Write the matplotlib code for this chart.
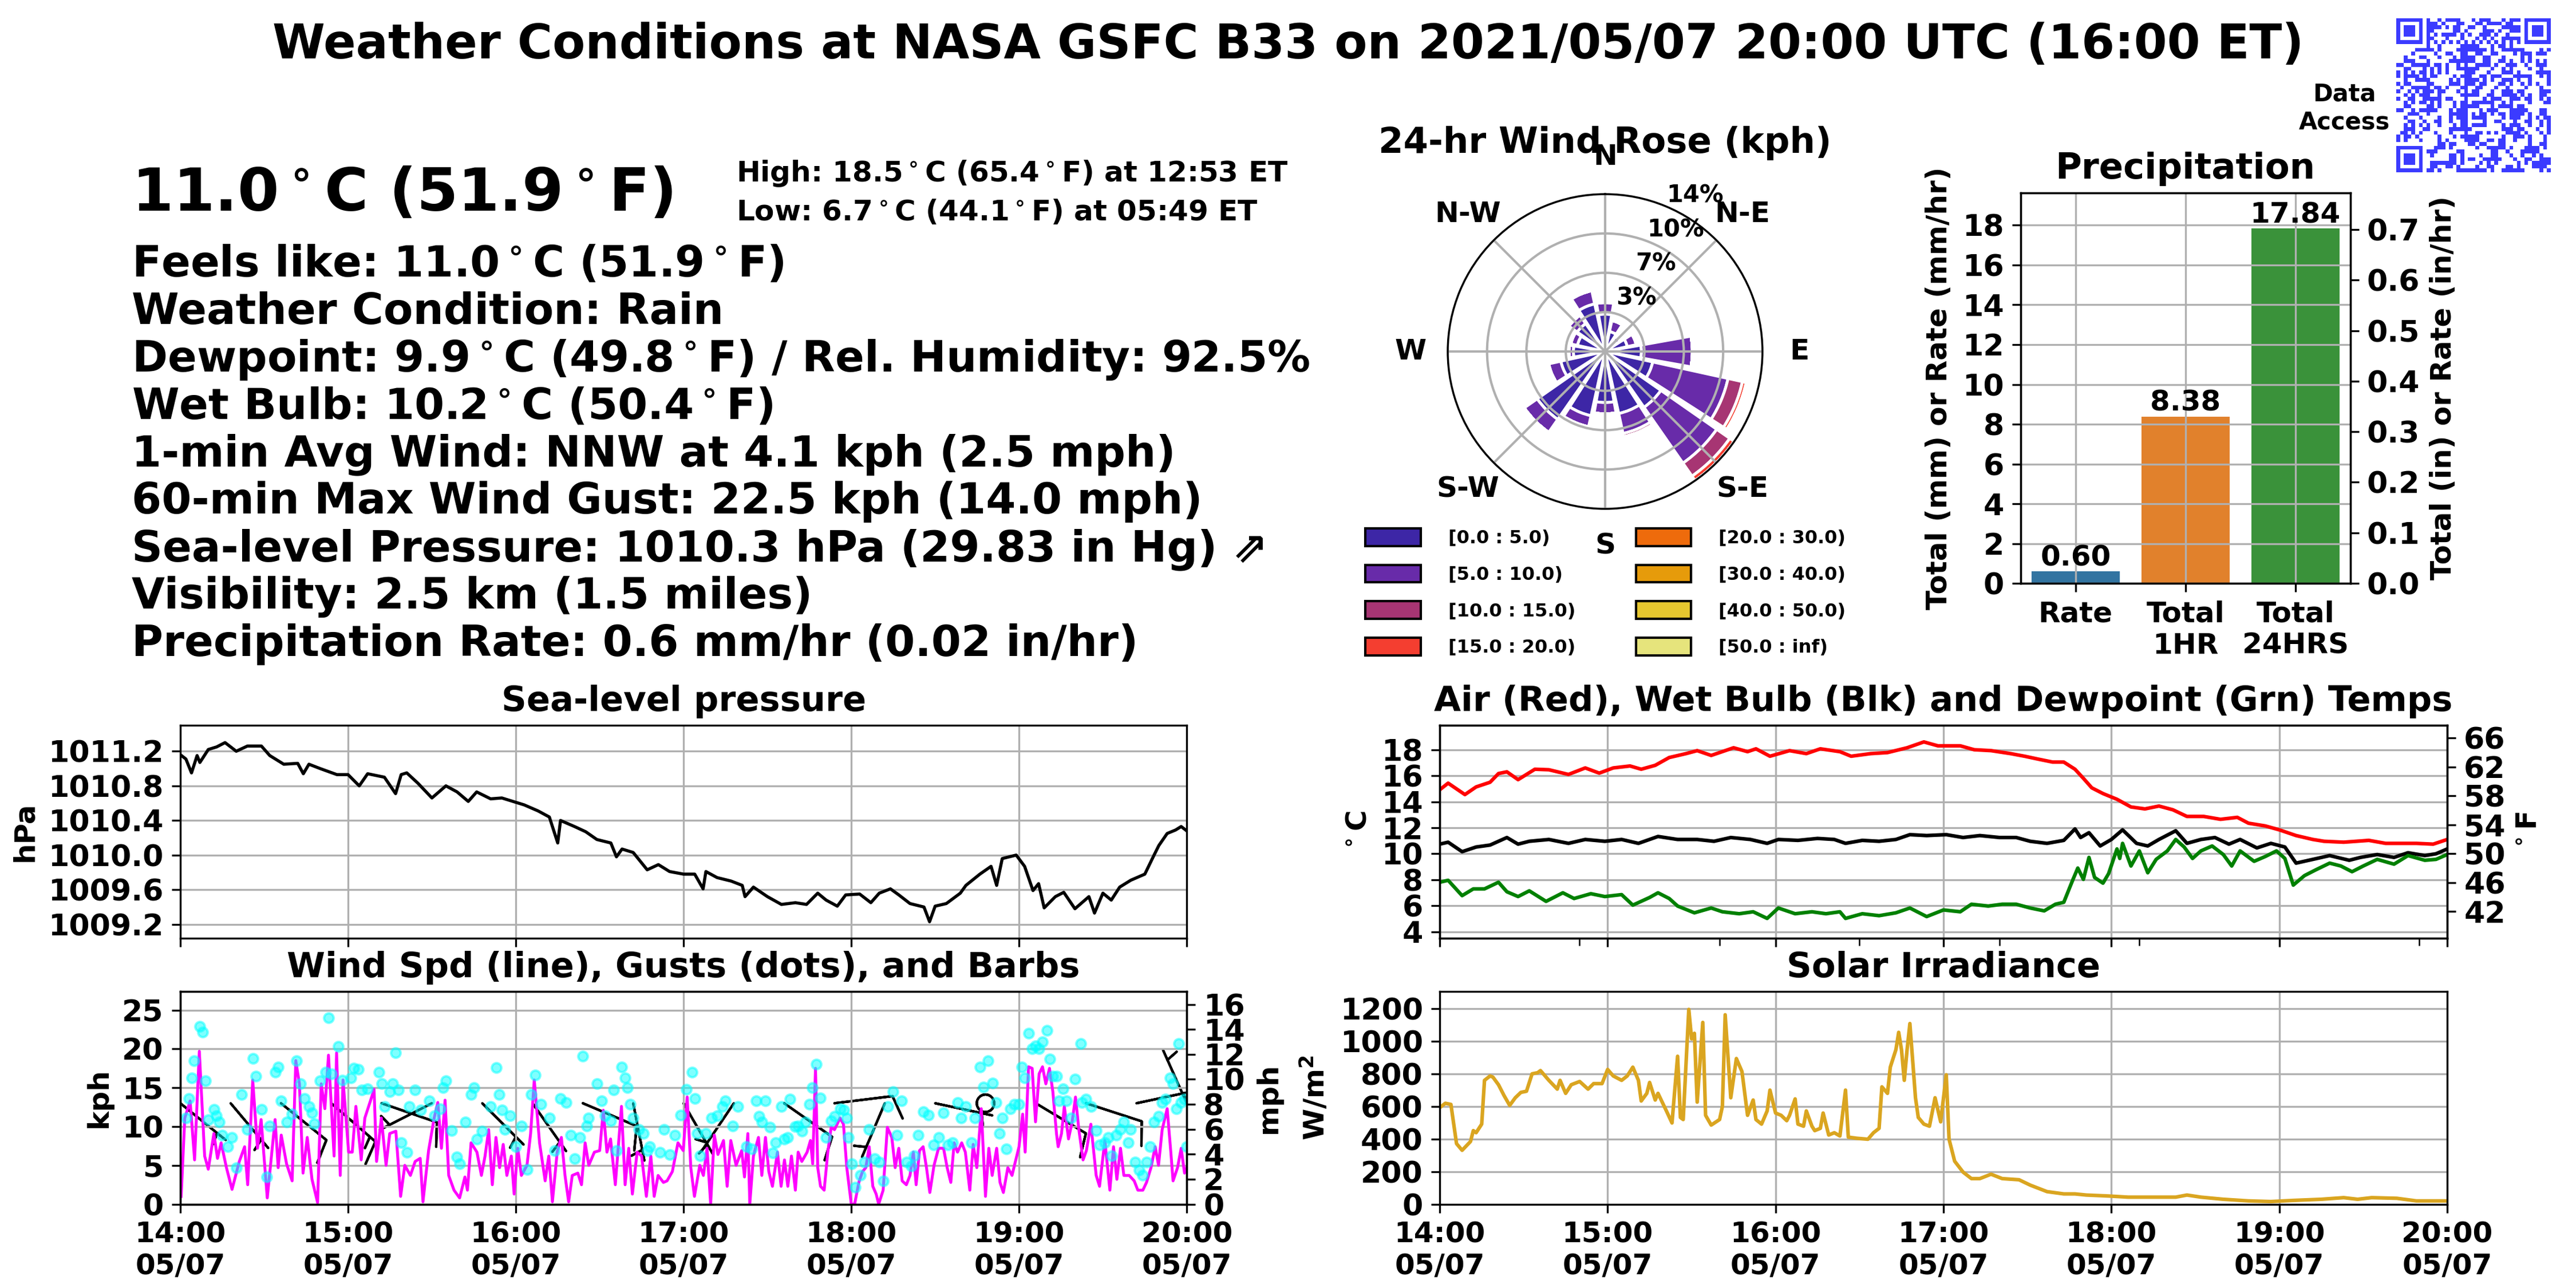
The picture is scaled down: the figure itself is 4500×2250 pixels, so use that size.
import numpy as np
import pandas as pd
import matplotlib
matplotlib.use('Agg')
import matplotlib.pyplot as plt
import matplotlib.dates as mdates
from matplotlib.patches import Patch
from matplotlib.colors import ListedColormap

plt.rcParams['font.family'] = ['DejaVu Sans']
plt.rcParams['font.weight'] = 'bold'
plt.rcParams['axes.labelweight'] = 'bold'
plt.rcParams['axes.titleweight'] = 'bold'
plt.rcParams['axes.titlesize'] = 14.6
plt.rcParams['axes.labelsize'] = 12
plt.rcParams['xtick.labelsize'] = 12
plt.rcParams['ytick.labelsize'] = 12.5
plt.rcParams['mathtext.default'] = 'bf'

GRID = '#b0b0b0'

# ---------------- data ----------------
# minutes after 14:00 UTC on 2021/05/07
pres_t = [0, 2, 4, 6, 7, 10, 13, 16, 20, 24, 29, 32, 34, 37, 42, 44, 46, 50, 56, 60,
          64, 67, 73, 77, 79, 81, 85, 90, 95, 99, 103, 106, 111, 115, 119, 123, 128, 132,
          135, 136, 141, 145, 149, 154, 156, 158, 162, 167, 171, 175, 180, 184, 187, 188,
          192, 197, 201, 202, 205, 210, 215, 220, 224, 228, 231, 235, 238, 243, 247, 250,
          254, 257, 261, 266, 268, 270, 274, 279, 281, 286, 290, 292, 294, 299, 302, 305,
          307, 309, 313, 316, 320, 325, 327, 330, 333, 336, 340, 345, 348, 350, 353, 356,
          358, 360]
pres_v = [1011.16, 1011.11, 1010.95, 1011.15, 1011.07, 1011.22, 1011.25, 1011.30, 1011.20,
          1011.26, 1011.26, 1011.15, 1011.11, 1011.05, 1011.06, 1010.94, 1011.05, 1011.00,
          1010.93, 1010.93, 1010.80, 1010.94, 1010.90, 1010.71, 1010.93, 1010.95, 1010.83,
          1010.66, 1010.80, 1010.73, 1010.62, 1010.73, 1010.65, 1010.66, 1010.62, 1010.58,
          1010.51, 1010.44, 1010.14, 1010.40, 1010.33, 1010.27, 1010.18, 1010.14, 1009.98,
          1010.07, 1010.03, 1009.83, 1009.89, 1009.81, 1009.78, 1009.78, 1009.61, 1009.81,
          1009.74, 1009.70, 1009.65, 1009.52, 1009.63, 1009.52, 1009.43, 1009.45, 1009.43,
          1009.56, 1009.48, 1009.41, 1009.54, 1009.55, 1009.45, 1009.56, 1009.61, 1009.54,
          1009.44, 1009.40, 1009.23, 1009.41, 1009.44, 1009.56, 1009.65, 1009.78, 1009.87,
          1009.65, 1009.96, 1010.00, 1009.87, 1009.59, 1009.67, 1009.39, 1009.52, 1009.57,
          1009.38, 1009.52, 1009.33, 1009.56, 1009.48, 1009.63, 1009.71, 1009.78, 1009.98,
          1010.11, 1010.25, 1010.29, 1010.33, 1010.28]

air_t = [0, 3, 9, 13, 18, 21, 24, 28, 34, 39, 46, 52, 57, 62, 68, 72, 77, 82, 88, 92, 97,
         105, 110, 113, 118, 125, 131, 136, 143, 147, 154, 160, 167, 173, 178, 186, 191, 197,
         204, 209, 214, 219, 223, 227, 230, 233, 237, 242, 247, 252, 257, 262, 267, 273, 279,
         285, 289, 295, 300, 306, 312, 316, 323, 332, 338, 343, 349, 355, 360]
air_v = [14.92, 15.43, 14.55, 15.14, 15.5, 16.17, 16.3, 15.7, 16.5, 16.46, 16.1, 16.6, 16.2,
         16.6, 16.75, 16.5, 16.8, 17.4, 17.7, 17.93, 17.56, 18.15, 17.85, 18.07, 17.5, 17.93,
         17.7, 18.07, 17.85, 17.5, 17.7, 17.78, 18.15, 18.6, 18.3, 18.3, 18.0, 17.93, 17.7,
         17.5, 17.27, 17.05, 17.05, 16.5, 15.8, 15.07, 14.63, 14.19, 13.6, 13.45, 13.67, 13.38,
         12.87, 12.87, 12.65, 12.8, 12.35, 12.14, 11.84, 11.4, 11.1, 10.96, 10.89, 11.03, 10.8,
         10.8, 10.8, 10.74, 11.1]

wb_t = [0, 3, 8, 13, 18, 21, 24, 28, 32, 39, 46, 52, 59, 65, 71, 78, 85, 92, 98, 104, 111,
        117, 121, 128, 135, 141, 145, 151, 157, 163, 168, 174, 181, 187, 193, 200, 206, 211,
        217, 223, 227, 229, 232, 236, 240, 244, 249, 253, 257, 263, 267, 272, 277, 282, 286,
        292, 297, 302, 306, 312, 318, 325, 329, 335, 341, 346, 352, 356, 360]
wb_v = [10.74, 10.89, 10.16, 10.52, 10.67, 10.96, 11.25, 10.74, 10.96, 11.1, 10.8, 11.1,
        10.96, 11.1, 10.8, 11.33, 11.1, 11.1, 10.96, 11.25, 11.1, 10.8, 11.1, 11.03, 11.18,
        11.1, 10.8, 11.03, 10.96, 11.1, 11.47, 11.4, 11.47, 11.25, 11.4, 11.25, 11.25, 10.96,
        10.8, 11.03, 11.91, 11.25, 11.62, 10.6, 11.1, 11.84, 10.8, 10.6, 11.1, 11.77, 10.8,
        11.1, 11.25, 10.74, 11.1, 10.45, 10.8, 10.52, 9.28, 9.57, 9.86, 9.5, 9.72, 9.94, 9.72,
        10.08, 9.86, 10.0, 10.37]

dew_t = [0, 3, 8, 12, 16, 21, 24, 28, 32, 38, 44, 48, 54, 59, 65, 69, 75, 78, 82, 85, 91,
         97, 101, 107, 112, 117, 121, 127, 133, 138, 143, 145, 151, 157, 163, 168, 174, 180,
         186, 190, 196, 201, 206, 211, 216, 220, 223, 226, 228, 230, 232, 234, 237, 239, 242,
         243, 244, 247, 250, 253, 256, 260, 263, 266, 269, 272, 276, 280, 283, 286, 291, 295,
         299, 302, 305, 309, 313, 318, 322, 326, 330, 335, 341, 346, 352, 356, 360]
dew_v = [7.81, 7.96, 6.78, 7.3, 7.3, 7.81, 7.08, 6.71, 7.15, 6.34, 7.0, 6.56, 6.93, 6.71,
         6.86, 6.05, 6.64, 7.0, 6.56, 5.98, 5.46, 5.83, 5.54, 5.39, 5.54, 5.03, 5.83, 5.39,
         5.54, 5.39, 5.54, 5.03, 5.39, 5.24, 5.46, 5.83, 5.17, 5.68, 5.54, 6.12, 5.98, 6.12,
         6.12, 5.83, 5.61, 6.12, 6.27, 7.88, 8.9, 8.03, 9.72, 8.18, 7.74, 8.47, 10.37, 9.64,
         10.8, 9.06, 10.22, 8.54, 9.57, 10.22, 11.1, 10.52, 9.64, 10.22, 10.6, 9.94, 9.06,
         10.22, 9.42, 9.79, 10.22, 9.64, 7.59, 8.32, 8.76, 9.28, 9.06, 8.62, 9.06, 9.57, 9.2,
         9.86, 9.5, 9.57, 9.94]

sol_t = [0, 2, 4, 6, 8, 11, 12, 13, 15, 16, 18, 19, 21, 23, 25, 27, 29, 31, 33, 35, 36, 39,
         42, 43, 45, 47, 50, 53, 55, 58, 60, 62, 65, 67, 69, 71, 72, 74, 75, 77, 78, 81, 83,
         85, 86, 87, 89, 90, 91, 92, 94, 95, 97, 100, 101, 102, 104, 106, 108, 110, 112, 113,
         115, 117, 118, 120, 122, 124, 125, 127, 128, 130, 131, 133, 134, 136, 137, 139, 141,
         143, 145, 146, 149, 153, 155, 157, 158, 160, 161, 163, 164, 165, 166, 167, 168, 170,
         171, 173, 175, 177, 179, 181, 182, 184, 187, 190, 193, 197, 201, 207, 211, 217, 223,
         227, 231, 239, 246, 254, 263, 267, 272, 280, 289, 297, 305, 315, 323, 328, 333, 342,
         349, 360]
sol_v = [593, 620, 613, 372, 331, 385, 452, 439, 492, 761, 788, 781, 734, 667, 607, 654, 687,
         694, 801, 808, 821, 761, 707, 761, 681, 734, 754, 707, 741, 741, 828, 788, 761, 788,
         842, 761, 634, 681, 748, 640, 681, 573, 499, 909, 533, 520, 1197, 1016, 1050, 627,
         1117, 546, 486, 520, 600, 1164, 654, 895, 815, 546, 640, 520, 492, 573, 701, 560, 546,
         513, 546, 647, 492, 479, 573, 479, 452, 466, 560, 425, 439, 419, 701, 412, 405, 399,
         439, 466, 721, 681, 842, 949, 1056, 949, 761, 949, 1110, 654, 533, 492, 479, 654, 506,
         795, 399, 264, 197, 157, 157, 184, 157, 150, 117, 77, 63, 63, 56, 50, 43, 43, 43, 56,
         43, 30, 20, 16, 23, 30, 40, 30, 40, 36, 20, 20]

wind_t = [0.3, 1.6, 3.5, 5.1, 6.8, 8.7, 10.0, 12.0, 13.3, 14.6, 16.5, 18.5, 21.1, 23.0, 24.1,
          25.9, 27.6, 28.9, 31.1, 33.9, 35.0, 36.1, 38.0, 40.0, 41.3, 42.6, 43.9, 45.4, 47.1,
          49.1, 50.4, 51.7, 53.0, 55.0, 55.9, 57.2, 58.2, 60.2, 61.5, 62.8, 64.7, 66.0, 68.0,
          69.3, 70.2, 71.9, 73.6, 74.9, 77.1, 78.8, 80.3, 82.3, 84.0, 85.8, 86.8, 88.8, 90.8,
          92.1, 93.4, 94.7, 96.0, 97.9, 99.9, 101.8, 102.7, 104.0, 106.1, 107.7, 109.0, 110.3,
          111.6, 112.9, 114.2, 115.5, 116.8, 118.4, 119.4, 120.7, 122.0, 124.0, 125.3, 126.6,
          128.5, 130.5, 131.8, 133.1, 134.8, 136.3, 137.6, 138.9, 140.2, 142.2, 143.5, 144.8,
          146.1, 148.1, 150.0, 151.3, 152.6, 153.9, 155.6, 157.8, 159.1, 160.4, 161.7, 163.4,
          165.0, 166.7, 168.3, 169.5, 170.9, 172.8, 174.1, 176.0, 178.0, 179.9, 181.3, 182.6,
          183.9, 185.8, 187.1, 188.4, 189.7, 191.0, 192.3, 194.3, 195.6, 196.9, 198.8, 200.8,
          201.8, 203.0, 203.7, 205.0, 206.8, 208.0, 209.3, 210.5, 211.8, 213.6, 214.9, 216.1,
          217.3, 218.6, 220.0, 221.0, 222.3, 224.2, 225.4, 226.2, 227.2, 228.0, 229.0, 230.3,
          231.6, 232.8, 234.0, 236.0, 237.2, 238.4, 240.0, 241.2, 242.7, 244.0, 245.2, 246.4,
          247.7, 248.9, 249.8, 251.4, 252.9, 254.5, 255.7, 257.0, 258.2, 259.7, 261.0, 262.2,
          263.2, 264.4, 265.7, 266.9, 268.1, 269.6, 271.2, 273.0, 274.3, 275.6, 276.8, 278.0,
          279.5, 280.8, 282.4, 283.6, 284.9, 286.5, 288.0, 289.2, 290.4, 292.0, 293.2, 294.4,
          296.0, 297.5, 298.5, 300.0, 301.3, 302.2, 303.4, 304.7, 305.9, 307.2, 308.4, 309.6,
          310.9, 312.1, 313.4, 314.0, 315.2, 316.2, 317.7, 319.0, 320.2, 321.4, 322.9, 324.1,
          325.7, 327.6, 328.8, 330.7, 332.5, 333.8, 335.0, 336.3, 337.5, 339.4, 341.2, 342.5,
          344.3, 345.6, 347.2, 348.7, 349.9, 351.2, 353.0, 354.3, 355.1, 356.7, 358.0, 359.2,
          360.0]
wind_v = [1.0, 11.1, 13.3, 5.7, 19.7, 6.2, 4.5, 9.1, 5.9, 7.9, 4.7, 1.9, 5.5, 7.4, 2.5, 16.0,
          7.2, 10.9, 0.8, 10.9, 4.7, 8.9, 5.2, 3.0, 18.5, 15.5, 4.0, 8.6, 3.2, 0.2, 15.5, 12.3,
          19.2, 6.2, 19.5, 3.7, 16.0, 6.7, 6.7, 12.6, 5.7, 11.1, 13.3, 14.8, 5.5, 11.1, 5.0, 9.1,
          9.4, 1.0, 5.0, 3.7, 5.5, 5.9, 0.3, 6.9, 11.1, 13.1, 7.2, 13.4, 3.7, 1.8, 0.8, 3.5, 1.8,
          7.9, 6.7, 3.7, 6.2, 9.6, 2.5, 8.6, 4.7, 7.7, 3.7, 6.2, 1.3, 7.2, 3.7, 5.0, 9.1, 16.0,
          7.9, 3.0, 6.2, 0.3, 6.7, 8.6, 3.7, 0.3, 3.7, 4.0, 2.5, 7.9, 5.0, 6.7, 6.9, 12.1, 6.7,
          8.4, 2.5, 12.6, 2.5, 7.2, 1.3, 6.7, 6.2, 1.0, 6.2, 1.0, 3.7, 2.8, 3.0, 4.2, 7.9, 6.9,
          13.8, 4.7, 1.0, 5.0, 3.7, 7.2, 0.0, 8.9, 6.4, 8.2, 2.3, 8.2, 5.0, 6.9,
          3.5, 9.1, 0.0, 6.2, 8.6, 3.7, 8.6, 4.2, 2.3, 6.7, 2.3, 5.7, 2.3, 6.2, 1.8, 6.7, 5.5,
          6.7, 8.2, 5.2, 17.5, 4.7, 2.3, 1.8, 6.7, 9.9, 9.6, 11.1, 10.3, 4.7, 0.0, 0.0, 2.8, 4.2,
          4.7, 7.4, 2.3, 1.3, 0.0, 1.8, 9.9, 8.6, 4.7, 7.2, 3.0, 2.5, 3.7, 6.7, 2.5, 6.9, 7.4,
          4.7, 1.5, 5.0, 7.2, 7.2, 4.7, 2.8, 7.9, 6.7, 7.9, 6.7, 1.8, 7.7, 4.7, 12.3, 1.0, 7.2,
          3.7, 7.2, 2.8, 1.5, 4.7, 3.7, 5.2, 7.4, 11.6, 6.7, 17.7, 17.5, 10.6, 16.8, 17.7, 15.5,
          17.5, 14.5, 9.1, 7.4, 9.1, 12.6, 8.4, 10.6, 13.8, 9.6, 5.7, 6.9, 10.3, 3.7, 2.3, 8.2,
          1.8, 7.4, 3.2, 7.2, 3.7, 3.7, 3.0, 1.8, 1.8, 2.8, 4.7, 7.4, 5.0, 9.6, 12.3, 6.7, 3.0,
          4.7, 7.2, 4.0, 4.7]

gust_t = [2, 3, 4, 5, 7, 8, 9, 10, 12, 13, 14, 15, 17, 18.5, 20, 22, 24, 26, 27, 29, 31, 32,
          34, 35, 36, 38, 40, 41.5, 43, 44.5, 46, 47, 48, 50, 52, 53, 54, 56.6, 58, 61, 62, 63.7,
          65, 67, 71, 72, 73, 75, 76, 77, 78, 79, 81, 82, 84, 86, 89, 91, 93, 94, 95, 97, 99,
          100, 102, 104, 105, 106, 108, 111, 113, 114, 115, 116, 118, 120, 122, 124, 125.6, 127,
          129, 132, 134, 136, 138, 139.6, 141, 143, 144, 145.4, 146, 149, 150.7, 152, 154, 155,
          156, 157.8, 159, 160, 161, 162, 164, 165.6, 167, 168, 171.5, 173, 175, 177, 179, 181,
          183, 184, 185, 186, 188, 190, 192, 194, 195, 197.5, 199.5,
          202.5, 204.3, 206, 207, 208, 209.3, 211, 212, 213, 215, 216, 217.3, 218, 220, 221,
          222.3, 223.5, 225, 226, 227.5, 229, 231, 232.8, 234, 236, 237.4, 238.4, 239, 240.2,
          241.5, 243.3, 244.6, 246.4, 248.3, 250, 251.4, 253, 255, 256.4, 258, 259.8, 261.4,
          262.6, 263.9, 265.7, 267.6, 269.4, 271.3, 273, 274.6, 276.2, 278, 279.3, 281, 283,
          284.2, 286, 287.3, 289, 290.5, 291.7, 293, 294, 295.5, 297, 298.3, 300, 301, 302,
          303.4, 304.7, 306, 307.2, 308.4, 310, 311, 312, 313.4, 314.3, 315.8, 317, 318.7, 320,
          322, 322.6, 324, 325.7, 327.6, 328.8, 330.7, 332, 333.2, 334.8, 336.3, 337.5, 339,
          340, 341.5, 343, 344.3, 345.6, 346.8, 348.4, 350, 351.2, 352.4, 354, 355, 356.2,
          357.1, 358, 359.2, 360]
gust_v = [11.1, 13.6, 16.3, 18.5, 22.9, 22.2, 15.9, 10.9, 12.2, 11.4, 10.6, 8.9, 7.4, 8.6,
          4.7, 14.1, 9.6, 18.8, 16.5, 12.2, 3.5, 10.1, 17.0, 17.7, 13.3, 10.6, 11.6, 18.5, 15.5,
          13.6, 12.6, 11.8, 10.4, 15.9, 17.0, 24.0, 16.8, 20.3, 16.0, 16.3, 17.5, 17.4, 14.7,
          14.9, 17.0, 15.5, 12.6, 14.5, 15.5, 19.5, 14.7, 7.9, 6.7, 12.6, 14.7, 12.1, 13.3, 11.4,
          12.3, 15.0, 15.9, 9.5, 6.1, 5.2, 10.6, 14.1, 15.0, 8.4, 9.4, 12.6, 17.6, 14.1, 12.1,
          9.6, 11.4, 7.4, 10.1, 4.5, 14.1, 16.6, 12.9, 11.1, 6.9, 13.6, 13.1, 8.9, 5.9, 8.6,
          19.1, 10.1, 11.1, 15.5, 13.3, 11.4, 10.7, 14.7, 6.9, 17.7, 16.3, 15.0, 12.9, 11.1, 9.6,
          9.1, 6.9, 7.4, 6.7, 9.6, 6.4, 8.9, 11.5, 14.8, 17.0, 13.6, 9.1, 6.2, 9.1, 11.1, 11.4,
          12.6, 13.3, 10.1, 12.6,
          7.4, 7.1, 13.3, 11.3, 10.6, 13.3, 9.9, 6.6, 7.9, 12.6, 8.4, 8.6, 13.5, 10.0, 10.1, 9.4,
          10.6, 12.9, 15.0, 18.0, 13.7, 8.6, 10.7, 11.3, 12.3, 12.1, 11.1, 8.6, 5.2, 2.2, 3.7,
          5.4, 9.6, 5.9, 5.4, 3.0, 12.6, 14.5, 8.9, 13.3, 5.4, 4.9, 6.2, 8.9, 11.9, 11.5, 7.6,
          8.6, 11.8, 7.6, 7.9, 13.1, 11.1, 12.6, 7.9, 11.1, 17.7, 15.1, 18.5, 15.6, 13.1, 9.1,
          11.1, 7.1, 12.3, 12.9, 12.9, 17.7, 16.3, 22.0, 20.0, 20.4, 20.0, 20.9, 22.4, 18.7,
          16.5, 16.5, 13.3, 14.9, 13.3, 11.1, 16.1, 20.7, 13.1, 13.5, 12.6, 9.5, 7.6, 7.9, 8.6,
          6.2, 8.9, 9.6, 10.6, 7.9, 9.6, 5.4, 4.4, 3.7, 5.4, 7.4, 10.6, 11.3, 13.1, 13.5, 16.3,
          15.5, 12.3, 20.7, 13.1, 13.5, 7.4]

barb_t = [0, 18, 36, 54, 72, 90, 108, 126, 144, 162, 180, 198, 216, 234, 252, 270, 288,
          306, 324, 342, 360]
barb_dir = [129, 140, 129, 131, 109, 243, 135, 145, 113, 169, 150, 214, 125, 83, 203, 102,
            0, 121, 108, 78, 336]
barb_spd = [7, 7, 11, 15, 11, 7, 7, 7, 11, 7, 7, 7, 11, 11, 7, 7, 0, 11, 11, 7, 7]

# wind rose: percent of time per direction sector and speed bin (kph)
rose_dirs = ['N', 'NNE', 'NE', 'ENE', 'E', 'ESE', 'SE', 'SSE',
             'S', 'SSW', 'SW', 'WSW', 'W', 'WNW', 'NW', 'NNW']
rose_bins = ['[0.0 : 5.0)', '[5.0 : 10.0)', '[10.0 : 15.0)', '[15.0 : 20.0)',
             '[20.0 : 30.0)', '[30.0 : 40.0)', '[40.0 : 50.0)', '[50.0 : inf)']
rose_0_5 = [3.3, 1.8, 1.2, 2.0, 3.2, 4.3, 6.0, 5.6, 4.5, 5.8, 7.3, 4.0, 2.8, 2.5, 3.0, 4.3]
rose_5_10 = [1.0, 1.0, 0.4, 0.8, 4.5, 6.8, 6.0, 1.8, 1.0, 1.0, 1.4, 1.1, 0.4, 0.6, 0.9, 1.2]
rose_10_15 = [0.25, 0, 0, 0.25, 0, 1.3, 1.4, 0.3, 0, 0, 0, 0, 0, 0, 0, 0]
rose_15_20 = [0, 0, 0, 0, 0, 0.35, 0.48, 0, 0, 0, 0, 0, 0, 0, 0, 0]
rose_20_up = [0] * 16

precip_labels = ['Rate', 'Total\n1HR', 'Total\n24HRS']
precip_mm = [0.60, 8.38, 17.84]

title = 'Weather Conditions at NASA GSFC B33 on 2021/05/07 20:00 UTC (16:00 ET)'
deg = r'$^\circ$'
big_temp = f'11.0{deg}C (51.9{deg}F)'
hi_lo = [f'High: 18.5{deg}C (65.4{deg}F) at 12:53 ET',
         f'Low: 6.7{deg}C (44.1{deg}F) at 05:49 ET']
cond_lines = [f'Feels like: 11.0{deg}C (51.9{deg}F)',
              'Weather Condition: Rain',
              f'Dewpoint: 9.9{deg}C (49.8{deg}F) / Rel. Humidity: 92.5%',
              f'Wet Bulb: 10.2{deg}C (50.4{deg}F)',
              '1-min Avg Wind: NNW at 4.1 kph (2.5 mph)',
              '60-min Max Wind Gust: 22.5 kph (14.0 mph)',
              'Sea-level Pressure: 1010.3 hPa (29.83 in Hg) \u21d7',
              'Visibility: 2.5 km (1.5 miles)',
              'Precipitation Rate: 0.6 mm/hr (0.02 in/hr)']

base = pd.Timestamp('2021-05-07 14:00')


def tnum(mins):
    ts = base + pd.to_timedelta(np.asarray(mins, dtype=float), unit='min')
    return mdates.date2num(ts.to_pydatetime())


t_start, t_end = tnum([0, 360])

fig = plt.figure(figsize=(15, 7.5), dpi=300)
fig.text(0.5, 0.965, title, ha='center', va='center', fontsize=20)

# ---------------- text block ----------------
fig.text(0.0511, 0.8364, big_temp, fontsize=25, va='baseline')
fig.text(0.2858, 0.859, hi_lo[0], fontsize=12, va='baseline')
fig.text(0.2858, 0.829, hi_lo[1], fontsize=12, va='baseline')
line_y = [0.7853, 0.7484, 0.7116, 0.6747, 0.6378, 0.6013, 0.5644, 0.5276, 0.4907]
for s, y in zip(cond_lines, line_y):
    fig.text(0.0511, y, s, fontsize=18, va='baseline')

# ---------------- QR block ----------------
n = 41
qr = np.zeros((n, n), dtype=int)
used = np.zeros((n, n), dtype=bool)
for r0, c0 in [(0, 0), (0, n - 7), (n - 7, 0)]:
    rr0, cc0 = max(r0 - 1, 0), max(c0 - 1, 0)
    used[rr0:r0 + 8, cc0:c0 + 8] = True
    qr[r0:r0 + 7, c0:c0 + 7] = 1
    qr[r0 + 1:r0 + 6, c0 + 1:c0 + 6] = 0
    qr[r0 + 2:r0 + 5, c0 + 2:c0 + 5] = 1
for k in range(8, n - 8):
    qr[6, k] = qr[k, 6] = 1 - k % 2
    used[6, k] = used[k, 6] = True
payload = ('https://gmao.gsfc.nasa.gov/B33/weather/data-access ' * 8).encode()
bits = np.unpackbits(np.frombuffer(payload, dtype=np.uint8))
free = np.argwhere(~used)
for (i, j), b in zip(free, bits):
    qr[i, j] = b ^ int((i * j) % 2 + (i * j) % 3 == 0)
qax = fig.add_axes([0.930, 0.866, 0.0604, 0.12])
qax.imshow(qr, cmap=ListedColormap(['white', '#3b3bff']), interpolation='nearest')
qax.axis('off')
fig.text(0.910, 0.916, 'Data\nAccess', ha='center', va='center', fontsize=10,
         multialignment='center')

# ---------------- wind rose ----------------
rose = np.array([rose_0_5, rose_5_10, rose_10_15, rose_15_20,
                 rose_20_up, rose_20_up, rose_20_up, rose_20_up])
rose_colors = plt.get_cmap('CMRmap')(np.linspace(0.2, 0.87, 8))
theta = np.radians(np.arange(16) * 22.5)
rmax = 13.88
rax = fig.add_axes([0.562, 0.6049, 0.1222, 0.2444], projection='polar')
rax.set_theta_zero_location('N')
rax.set_theta_direction(-1)
bottom = np.zeros(16)
for i in range(8):
    rax.bar(theta, rose[i], width=np.radians(22.5) * 0.9, bottom=bottom,
            color=rose_colors[i], edgecolor='white', linewidth=1.2)
    bottom = bottom + rose[i]
rax.set_ylim(0, rmax)
rticks = rmax * np.array([0.25, 0.5, 0.75, 1.0])
rax.set_yticks(rticks)
rax.set_yticklabels([])
for r in rticks:
    rax.text(np.radians(30), r + 2.0, f'{r:.0f}%', ha='center', va='center',
             fontsize=10, clip_on=False)
rax.set_xticks(np.radians(np.arange(0, 360, 45)))
rax.set_xticklabels(['N', 'N-E', 'E', 'S-E', 'S', 'S-W', 'W', 'N-W'], fontsize=12)
rax.tick_params(axis='x', pad=5)
rax.grid(True, color=GRID, linewidth=1.0)
fig.text(0.6231, 0.8889, '24-hr Wind Rose (kph)', ha='center', va='center', fontsize=15)
handles = [Patch(facecolor=c, edgecolor='black', linewidth=1.0) for c in rose_colors]
fig.legend(handles, rose_bins, loc='upper left', bbox_to_anchor=(0.5265, 0.597),
           ncol=2, frameon=False, fontsize=7.7, handlelength=3.0, handleheight=1.1,
           labelspacing=0.95, handletextpad=1.5, columnspacing=3.3, borderpad=0)

# ---------------- precipitation ----------------
pax = fig.add_axes([0.7844, 0.5471, 0.128, 0.3031])
bars = pax.bar(range(3), precip_mm, width=0.8, color=['#3274a1', '#e1812c', '#3a923a'])
pax.bar_label(bars, fmt='%.2f', fontsize=12, padding=0)
ytop = 1.1 * max(precip_mm)
pax.set_xlim(-0.5, 2.5)
pax.set_ylim(0, ytop)
pax.set_yticks(np.arange(0, 19, 2))
pax.set_xticks(range(3))
pax.set_xticklabels(precip_labels)
pax.grid(True, color=GRID)
pax.set_title('Precipitation', fontsize=15)
pax.set_ylabel('Total (mm) or Rate (mm/hr)', fontsize=12)
pax2 = pax.twinx()
pax2.set_ylim(0, ytop / 25.4)
pax2.set_yticks(np.arange(0, 0.71, 0.1))
pax2.yaxis.set_major_formatter(plt.FormatStrFormatter('%.1f'))
pax2.set_ylabel('Total (in) or Rate (in/hr)', fontsize=12)


def time_axis(ax, labels):
    ax.set_xlim(t_start, t_end)
    ax.xaxis.set_major_locator(mdates.HourLocator())
    ax.xaxis.set_major_formatter(mdates.DateFormatter('%H:%M\n%m/%d'))
    ax.tick_params(labelbottom=labels)
    ax.grid(True, color=GRID)


# ---------------- pressure ----------------
ax_p = fig.add_axes([0.070, 0.2716, 0.3907, 0.1653])
ax_p.plot(tnum(pres_t), pres_v, color='black', lw=1.3)
time_axis(ax_p, False)
ax_p.set_ylim(1009.04, 1011.50)
ax_p.set_yticks(np.arange(1009.2, 1011.3, 0.4))
ax_p.yaxis.set_major_formatter(plt.FormatStrFormatter('%.1f'))
ax_p.set_ylabel('hPa')
ax_p.set_title('Sea-level pressure')

# ---------------- wind ----------------
ax_w = fig.add_axes([0.070, 0.0651, 0.3907, 0.1651])
ax_w.plot(tnum(wind_t), wind_v, color='magenta', lw=1.2)
ax_w.plot(tnum(gust_t), gust_v, 'o', color='cyan', alpha=0.5, ms=4)
bd = np.radians(barb_dir)
bs = np.array(barb_spd, dtype=float)
ax_w.barbs(tnum(barb_t), np.full(len(barb_t), 13.0), -bs * np.sin(bd), -bs * np.cos(bd),
           length=7, linewidth=1.0, color='black')
time_axis(ax_w, True)
ax_w.set_ylim(0, 27.4)
ax_w.set_yticks(np.arange(0, 26, 5))
ax_w.set_ylabel('kph')
ax_w.set_title('Wind Spd (line), Gusts (dots), and Barbs')
ax_w2 = ax_w.twinx()
ax_w2.set_ylim(0, 27.4 / 1.609)
ax_w2.set_yticks(np.arange(0, 17, 2))
ax_w2.set_ylabel('mph')

# ---------------- temperatures ----------------
ax_t = fig.add_axes([0.5589, 0.2716, 0.3911, 0.1653])
ax_t.plot(tnum(air_t), air_v, color='red', lw=1.5)
ax_t.plot(tnum(wb_t), wb_v, color='black', lw=1.5)
ax_t.plot(tnum(dew_t), dew_v, color='green', lw=1.5)
time_axis(ax_t, False)
ax_t.set_xticks(tnum([50, 100, 150, 200, 250, 350]), minor=True)
ax_t.tick_params(axis='x', which='minor', length=3)
ax_t.set_ylim(3.51, 19.88)
ax_t.set_yticks(np.arange(4, 19, 2))
ax_t.set_ylabel(f'{deg}C')
ax_t.set_title('Air (Red), Wet Bulb (Blk) and Dewpoint (Grn) Temps')
ax_t2 = ax_t.twinx()
ax_t2.set_ylim(3.51 * 1.8 + 32, 19.88 * 1.8 + 32)
ax_t2.set_yticks(np.arange(42, 67, 4))
ax_t2.set_ylabel(f'{deg}F')

# ---------------- solar ----------------
ax_s = fig.add_axes([0.5589, 0.0651, 0.3911, 0.1651])
ax_s.plot(tnum(sol_t), sol_v, color='goldenrod', lw=1.5)
time_axis(ax_s, True)
ax_s.set_ylim(0, 1307)
ax_s.set_yticks(np.arange(0, 1201, 200))
ax_s.set_ylabel('W/m$^2$')
ax_s.set_title('Solar Irradiance')

fig.savefig('out.png', dpi=300)
